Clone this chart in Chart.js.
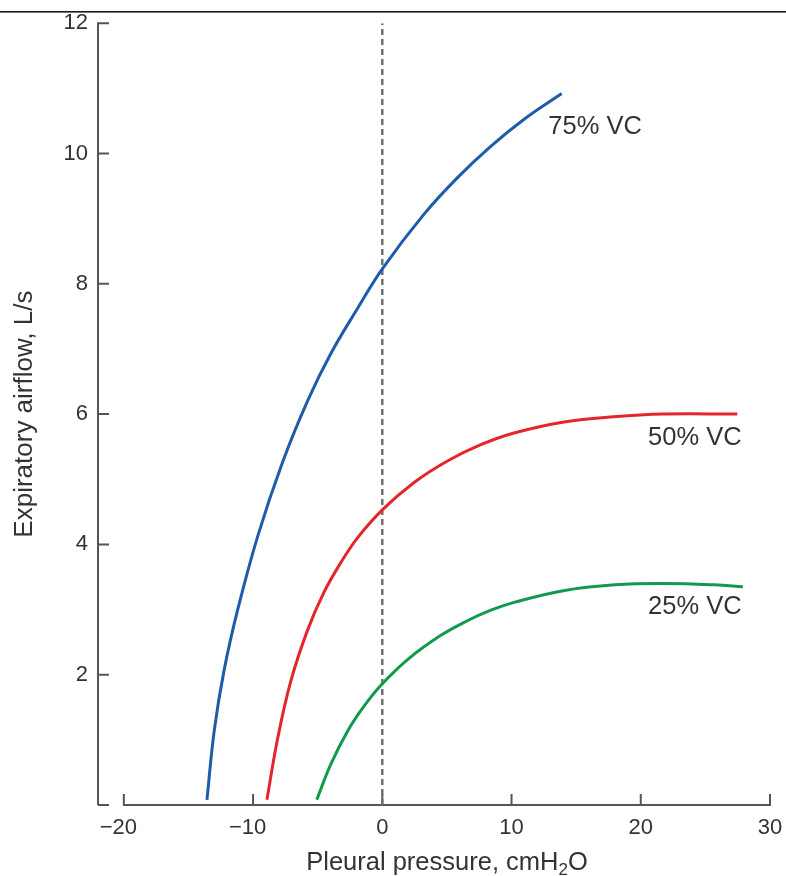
<!DOCTYPE html>
<html>
<head>
<meta charset="utf-8">
<script src="https://cdn.jsdelivr.net/npm/chart.js@4"></script>
<style>
  html, body { margin: 0; padding: 0; background: #fff; }
  #wrap { width: 786px; height: 876px; }
</style>
</head>
<body>
<div id="wrap"><canvas id="flowChart" width="786" height="876"></canvas></div>
<script>
// tick values
const xTicks = [-20, -10, 0, 10, 20, 30];
const yTicks = [0, 2, 4, 6, 8, 10, 12];

// 75% VC
const vc75X = [-13.57, -13.0, -12.24, -11.2, -9.65, -7.72, -5.79, -3.98, -1.92, 0, 3.23, 5.82, 8.39, 11.0, 13.88];
const vc75Y = [0.08, 1.15, 2.07, 2.99, 4.12, 5.26, 6.2, 6.93, 7.62, 8.23, 9.07, 9.63, 10.11, 10.53, 10.92];

// 50% VC
const vc50X = [-8.93, -8.1, -7.08, -5.79, -4.5, -3.21, -1.92, 0, 2.46, 5.04, 7.62, 10.19, 14.06, 17.93, 21.79, 27.47];
const vc50Y = [0.08, 1.02, 1.9, 2.68, 3.27, 3.72, 4.1, 4.53, 4.95, 5.28, 5.53, 5.71, 5.88, 5.96, 6.0, 6.0];

// 25% VC
const vc25X = [-5.07, -4.0, -2.7, -1.4, 0, 2.0, 4.5, 6.5, 8.4, 10.2, 14.0, 18.0, 21.8, 25.7, 27.9];
const vc25Y = [0.08, 0.62, 1.13, 1.52, 1.86, 2.24, 2.6, 2.82, 2.99, 3.11, 3.29, 3.38, 3.4, 3.38, 3.35];

const seriesNames = ["75% VC", "50% VC", "25% VC"];

const FONT = "'Liberation Sans', Arial, Helvetica, sans-serif";
const TEXT = "#333";

const toPoints = (xs, ys) => xs.map((x, i) => ({ x: x, y: ys[i] }));

// where the curve names sit (data coords)
const curveLabels = [
  { text: seriesNames[0], x: 12.85, y: 10.41, align: "left" },
  { text: seriesNames[1], x: 27.8, y: 5.63, align: "right" },
  { text: seriesNames[2], x: 27.8, y: 3.04, align: "right" },
];

const axesPlugin = {
  id: "axesPlugin",
  beforeDatasetsDraw(chart) {
    const { ctx, scales: { x, y } } = chart;
    const by = y.getPixelForValue(0);
    ctx.save();
    ctx.strokeStyle = "#555";
    ctx.lineWidth = 2;
    ctx.beginPath();
    ctx.moveTo(x.left, y.getPixelForValue(12) - 1);
    ctx.lineTo(x.left, by);
    yTicks.forEach(v => {
      const py = y.getPixelForValue(v);
      ctx.moveTo(x.left, py);
      ctx.lineTo(x.left + 11, py);
    });
    ctx.moveTo(x.getPixelForValue(xTicks[0]), by);
    ctx.lineTo(x.getPixelForValue(xTicks[xTicks.length - 1]) + 1, by);
    xTicks.forEach(v => {
      const px = x.getPixelForValue(v);
      ctx.moveTo(px, by + 1);
      ctx.lineTo(px, by - 11);
    });
    ctx.stroke();
    ctx.restore();
  },
  afterDraw(chart) {
    const { ctx, scales: { x, y } } = chart;
    ctx.save();
    // rule across the top of the figure
    ctx.fillStyle = "#1a1a1a";
    ctx.fillRect(0, 11, chart.width, 1.6);

    ctx.fillStyle = TEXT;
    ctx.font = "25.5px " + FONT;
    ctx.textBaseline = "middle";
    curveLabels.forEach(l => {
      ctx.textAlign = l.align;
      ctx.fillText(l.text, x.getPixelForValue(l.x), y.getPixelForValue(l.y));
    });

    // x axis title with subscript
    const main = "Pleural pressure, cmH";
    const sub = "2";
    const tail = "O";
    ctx.textBaseline = "alphabetic";
    ctx.textAlign = "left";
    ctx.font = "25.5px " + FONT;
    const w1 = ctx.measureText(main).width;
    const w3 = ctx.measureText(tail).width;
    ctx.font = "17px " + FONT;
    const w2 = ctx.measureText(sub).width;
    const total = w1 + w2 + w3;
    const sx = 447 - total / 2;
    const base = 870;
    ctx.font = "25.5px " + FONT;
    ctx.fillText(main, sx, base);
    ctx.font = "17px " + FONT;
    ctx.fillText(sub, sx + w1, base + 5);
    ctx.font = "25.5px " + FONT;
    ctx.fillText(tail, sx + w1 + w2, base);
    ctx.restore();
  }
};

const lineColors = ["#1d5ca8", "#e3262b", "#12994b"];

new Chart(document.getElementById("flowChart"), {
  type: "scatter",
  data: {
    datasets: [
      { label: seriesNames[0], data: toPoints(vc75X, vc75Y), borderColor: lineColors[0] },
      { label: seriesNames[1], data: toPoints(vc50X, vc50Y), borderColor: lineColors[1] },
      { label: seriesNames[2], data: toPoints(vc25X, vc25Y), borderColor: lineColors[2] },
      {
        label: "zero",
        data: [{ x: 0, y: 0 }, { x: 0, y: 12 }],
        borderColor: "#727272",
        borderWidth: 2.5,
        borderDash: [6, 4],
        tension: 0,
        order: 1,
      },
    ].map(d => Object.assign({
      showLine: true,
      pointRadius: 0,
      borderWidth: 3,
      fill: false,
      tension: 0.4,
      order: 0,
    }, d)),
  },
  options: {
    responsive: false,
    animation: false,
    layout: { padding: { top: 22, right: 16, left: 0, bottom: 0 } },
    plugins: { legend: { display: false }, tooltip: { enabled: false } },
    scales: {
      x: {
        type: "linear",
        min: -22,
        max: 30,
        afterBuildTicks: s => { s.ticks = xTicks.map(v => ({ value: v })); },
        afterFit: s => { s.height = 71; s.paddingLeft = 0; s.paddingRight = 0; },
        grid: { display: false, drawTicks: false },
        border: { display: false },
        ticks: {
          color: TEXT,
          autoSkip: false,
          maxRotation: 0,
          padding: 10,
          font: { family: FONT, size: 22 },
          // trailing space keeps the digits centred on the tick, minus hanging left
          callback: v => (v < 0 ? "\u2212" + Math.abs(v) + "\u2002" : String(v)),
        },
      },
      y: {
        type: "linear",
        min: 0,
        max: 12,
        afterBuildTicks: s => { s.ticks = yTicks.map(v => ({ value: v })); },
        afterFit: s => { s.width = 98; },
        grid: { display: false, drawTicks: false },
        border: { display: false },
        ticks: {
          color: TEXT,
          autoSkip: false,
          padding: 10,
          font: { family: FONT, size: 22 },
          callback: v => (v === 0 ? "" : String(v)),
        },
        title: {
          display: true,
          text: "Expiratory airflow, L/s",
          color: TEXT,
          font: { family: FONT, size: 26 },
          padding: { top: 9, bottom: 0 },
        },
      },
    },
  },
  plugins: [axesPlugin],
});
</script>
</body>
</html>
